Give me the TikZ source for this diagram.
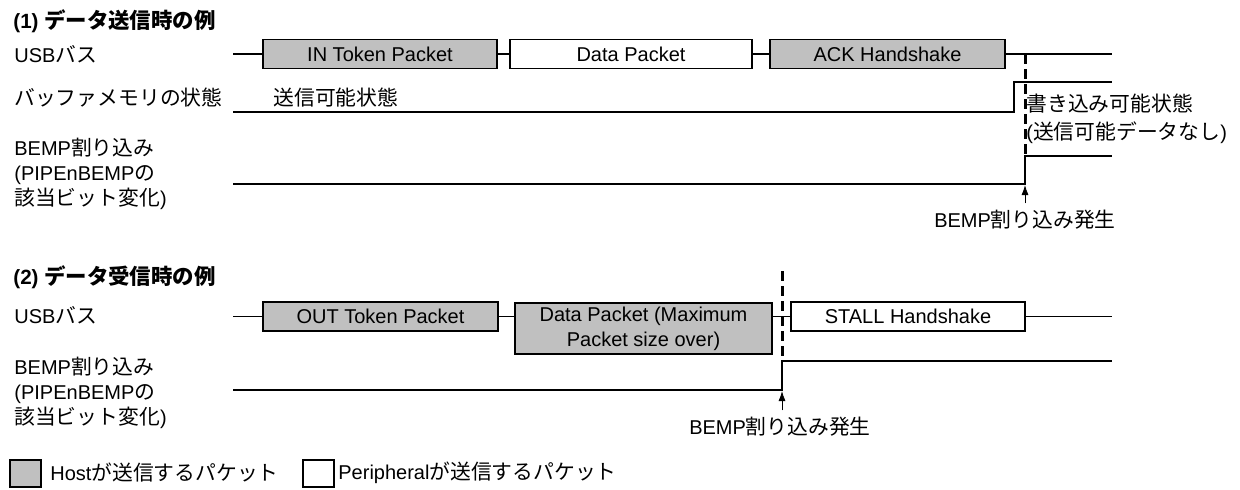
\documentclass[tikz,border=0pt]{standalone}
\usepackage{fontspec}
\setmainfont{Liberation Sans}
\newfontfamily\jfont[Scale=1.04]{Noto Sans CJK JP}
\usepackage{tikz}
\usetikzlibrary{arrows.meta}
\definecolor{hostGray}{RGB}{192,192,192}
\newcommand{\ja}[1]{{\jfont #1}}

\begin{document}
\begin{tikzpicture}[x=0.5pt,y=-0.5pt,
  every node/.style={font=\fontsize{10pt}{12.5pt}\selectfont},
  pkt/.style={draw,line width=0.8pt,minimum height=14.5pt,inner sep=0pt},
  host/.style={pkt,fill=hostGray},
  bus/.style={line width=0.75pt},
  sig/.style={line width=1pt},
  cutline/.style={line width=1.5pt,dash pattern=on 5pt off 2.5pt},
  lbl/.style={anchor=west,inner sep=0pt},
  ttl/.style={anchor=west,inner sep=0pt,font=\fontsize{10.3pt}{12.5pt}\selectfont\bfseries}]
  \useasboundingbox (0,0) rectangle (1240,489);
  % ---- (1) send
  \node[ttl] (ttl1) at (13,21) {(1) \ja{データ送信時の例}};
  \node[lbl] (bus1) at (14,54) {USB\ja{バス}};
  \node[lbl] (buf1) at (14,98) {\ja{バッファメモリの状態}};
  \node[lbl,align=left] (bemp1) at (14,174)
      {BEMP\ja{割り込み}\\(PIPEnBEMP\ja{の}\\\ja{該当ビット変化})};
  \node[host,minimum width=117pt] (in) at (380,54) {IN Token Packet};
  \node[pkt,minimum width=121pt] (data1) at (631,54) {Data Packet};
  \node[host,minimum width=117.5pt] (ack) at (887.5,54) {ACK Handshake};
  \coordinate (bus1s) at (233,54);
  \coordinate (bus1e) at (1112,54);
  \draw[bus] (bus1s) -- (in) (in) -- (data1) (data1) -- (ack) (ack) -- (bus1e);
  \draw[sig] (233,112) -- (1014,112) -- (1014,82) -- (1112,82);
  \node[lbl] (ok1) at (273,98) {\ja{送信可能状態}};
  \node[lbl,align=left,font=\fontsize{10pt}{14pt}\selectfont] (wr1) at (1026,119)
      {\ja{書き込み可能状態}\\(\ja{送信可能データなし})};
  \draw[sig] (233,184) -- (1025,184) -- (1025,156) -- (1112,156);
  \draw[cutline] (1025,54) -- (1025,156);
  \node (occ1) at (1025,220) {BEMP\ja{割り込み発生}};
  \coordinate (rise1) at (1025,185);
  \draw[-{Latex[length=5pt,width=3.5pt]}] (occ1) -- (rise1);
  % ---- (2) receive
  \node[ttl] (ttl2) at (13,277) {(2) \ja{データ受信時の例}};
  \node[lbl] (bus2) at (14,315) {USB\ja{バス}};
  \node[lbl,align=left] (bemp2) at (14,392.5)
      {BEMP\ja{割り込み}\\(PIPEnBEMP\ja{の}\\\ja{該当ビット変化})};
  \node[host,minimum width=117.5pt] (out) at (380.5,316.5) {OUT Token Packet};
  \node[host,minimum width=128.5pt,minimum height=25.5pt,align=center] (data2) at (643.5,328.5)
      {Data Packet (Maximum\\Packet size over)};
  \node[pkt,minimum width=117pt] (stall) at (908,316.5) {STALL Handshake};
  \coordinate (bus2s) at (233,316.5);
  \coordinate (bus2e) at (1112,316.5);
  \draw[bus] (bus2s) -- (out) (out) -- (out -| data2.west) (data2.east |- stall) -- (stall) (stall) -- (bus2e);
  \draw[sig] (233,390) -- (782,390) -- (782,361) -- (1112,361);
  \draw[cutline] (782,271) -- (782,361);
  \node (occ2) at (780,427) {BEMP\ja{割り込み発生}};
  \coordinate (rise2) at (782,391);
  \draw[-{Latex[length=5pt,width=3.5pt]}] (occ2.north -| rise2) -- (rise2);
  % ---- legend
  \node[host,minimum width=15.5pt,minimum height=13.5pt] (keyh) at (25.5,473.5) {};
  \node[lbl] (keyht) at (50,473) {Host\ja{が送信するパケット}};
  \node[pkt,minimum width=15.5pt,minimum height=13.5pt] (keyp) at (318.5,473.5) {};
  \node[lbl] (keypt) at (338,473) {Peripheral\ja{が送信するパケット}};
\end{tikzpicture}
\end{document}
